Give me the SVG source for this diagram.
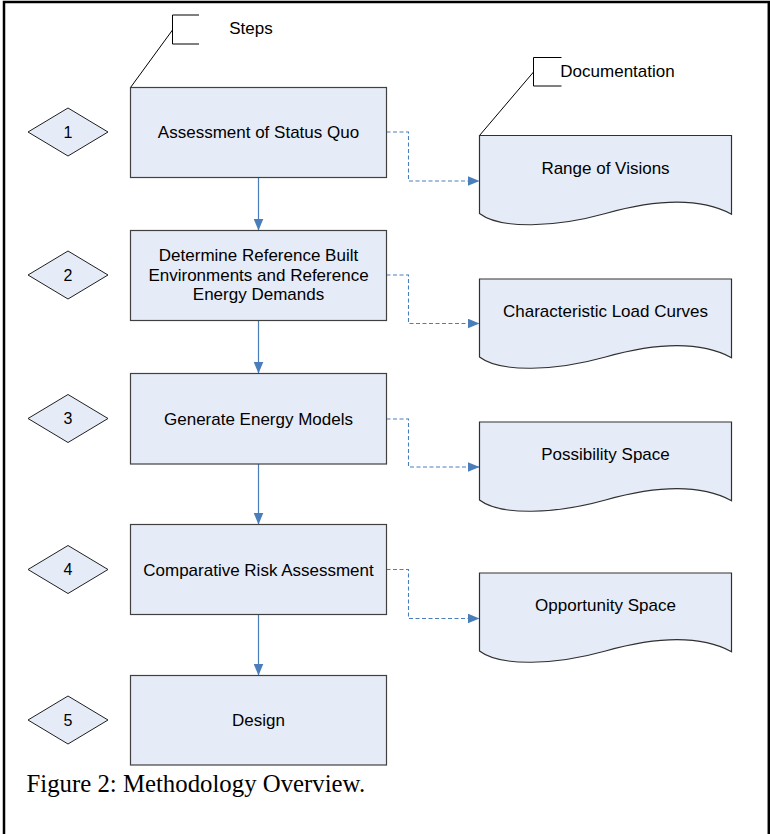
<svg xmlns="http://www.w3.org/2000/svg" width="770" height="834" viewBox="0 0 770 834">
<defs>
<style>
.box{fill:#E6ECF7;stroke:#404040;stroke-width:1.2}
.dia{fill:#E6ECF7;stroke:#202020;stroke-width:1}
.doc{fill:#E6ECF7;stroke:#303030;stroke-width:1.2}
.lbl{font-family:"Liberation Sans",Arial,sans-serif;font-size:17px;fill:#000;text-anchor:middle}
.num{font-family:"Liberation Sans",Arial,sans-serif;font-size:16px;fill:#000;text-anchor:middle}
.flow{fill:none;stroke:#4A7EBB;stroke-width:1.2}
.dash{fill:none;stroke:#4A7EBB;stroke-width:1.1;stroke-dasharray:4 2.5}
.call{fill:none;stroke:#000;stroke-width:1}
</style>
<marker id="ah" markerUnits="userSpaceOnUse" markerWidth="12" markerHeight="10" refX="12" refY="5" orient="auto">
<path d="M0,0 L12,5 L0,10 z" fill="#4A7EBB"/>
</marker>
<path id="docshape" d="M0,0 H252 V78.7 C221,62 176,64 126,78 C76,92 21,94 0,78 Z"/>
</defs>
<rect x="0" y="0" width="770" height="834" fill="#fff"/>
<path d="M4,834 V2 H768.8 V834" fill="none" stroke="#000" stroke-width="2.5"/>

<g id="connectors">
<line class="flow" x1="258.5" y1="177.5" x2="258.5" y2="230.5" marker-end="url(#ah)"/>
<line class="flow" x1="258.5" y1="320.5" x2="258.5" y2="373.5" marker-end="url(#ah)"/>
<line class="flow" x1="258.5" y1="464" x2="258.5" y2="524.5" marker-end="url(#ah)"/>
<line class="flow" x1="258.5" y1="614.5" x2="258.5" y2="675.5" marker-end="url(#ah)"/>
<polyline class="dash" points="386.5,132 408.5,132 408.5,181 479.5,181" marker-end="url(#ah)"/>
<polyline class="dash" points="386.5,275 408.5,275 408.5,323.5 479.5,323.5" marker-end="url(#ah)"/>
<polyline class="dash" points="386.5,419 408.5,419 408.5,467 479.5,467" marker-end="url(#ah)"/>
<polyline class="dash" points="386.5,569.5 408.5,569.5 408.5,618.5 479.5,618.5" marker-end="url(#ah)"/>
</g>

<g id="callout-steps">
<path class="call" d="M199,15 H172.5 V44 H199"/>
<line class="call" x1="130.5" y1="87.5" x2="172.5" y2="30"/>
<text class="lbl" x="251" y="33.5">Steps</text>
</g>
<g id="callout-doc">
<path class="call" d="M561.5,57.5 H533.5 V86 H561.5"/>
<line class="call" x1="479.5" y1="135.5" x2="533.5" y2="72"/>
<text class="lbl" x="617.5" y="77" style="text-anchor:middle">Documentation</text>
</g>

<g id="step1">
<rect class="box" x="130.5" y="87.5" width="256" height="90"/>
<text class="lbl" x="258.5" y="138">Assessment of Status Quo</text>
</g>
<g id="step2">
<rect class="box" x="130.5" y="230.5" width="256" height="90"/>
<text class="lbl" x="258.5" y="261">Determine Reference Built</text>
<text class="lbl" x="258.5" y="280.5">Environments and Reference</text>
<text class="lbl" x="258.5" y="300">Energy Demands</text>
</g>
<g id="step3">
<rect class="box" x="130.5" y="373.5" width="256" height="90.5"/>
<text class="lbl" x="258.5" y="424.5">Generate Energy Models</text>
</g>
<g id="step4">
<rect class="box" x="130.5" y="524.5" width="256" height="90"/>
<text class="lbl" x="258.5" y="575.5">Comparative Risk Assessment</text>
</g>
<g id="step5">
<rect class="box" x="130.5" y="675.5" width="256" height="89.5"/>
<text class="lbl" x="258.5" y="726">Design</text>
</g>

<g id="d1"><polygon class="dia" points="28,132 68,108 108,132 68,156"/><text class="num" x="68" y="137.5">1</text></g>
<g id="d2"><polygon class="dia" points="28,275 68,251 108,275 68,299"/><text class="num" x="68" y="280.5">2</text></g>
<g id="d3"><polygon class="dia" points="28,418.5 68,394.5 108,418.5 68,442.5"/><text class="num" x="68" y="424">3</text></g>
<g id="d4"><polygon class="dia" points="28,569.5 68,545.5 108,569.5 68,593.5"/><text class="num" x="68" y="575">4</text></g>
<g id="d5"><polygon class="dia" points="28,720 68,696 108,720 68,744"/><text class="num" x="68" y="725.5">5</text></g>

<g id="doc1"><use href="#docshape" class="doc" x="479.5" y="135.5"/><text class="lbl" x="605.5" y="174">Range of Visions</text></g>
<g id="doc2"><use href="#docshape" class="doc" x="479.5" y="279"/><text class="lbl" x="605.5" y="317">Characteristic Load Curves</text></g>
<g id="doc3"><use href="#docshape" class="doc" x="479.5" y="422"/><text class="lbl" x="605.5" y="460">Possibility Space</text></g>
<g id="doc4"><use href="#docshape" class="doc" x="479.5" y="573"/><text class="lbl" x="605.5" y="611">Opportunity Space</text></g>

<text x="26.5" y="791.5" font-family="'Liberation Serif','Times New Roman',serif" font-size="24.8" fill="#000">Figure 2: Methodology Overview.</text>
</svg>
